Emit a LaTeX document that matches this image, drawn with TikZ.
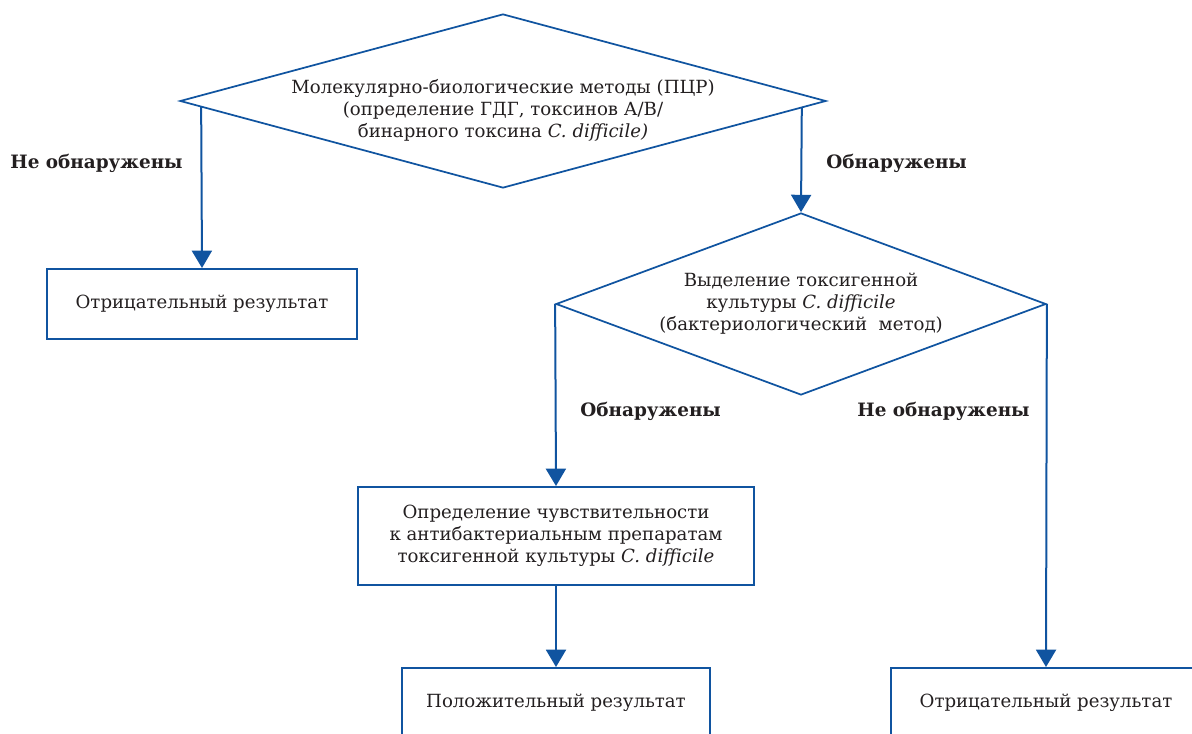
\documentclass[tikz,border=0pt]{standalone}
\usepackage{fontspec}
\setmainfont{DejaVu Serif}
\usepackage{xcolor}
\usetikzlibrary{shapes.geometric,arrows.meta,calc}
\definecolor{schemeblue}{RGB}{16,84,160}
\definecolor{textgray}{RGB}{35,31,32}
\begin{document}
\begin{tikzpicture}[x=0.75pt,y=-0.75pt,->,>={Triangle[width=15pt,length=13pt]},semithick]
		\tikzstyle{every node}=[text=textgray,font=\fontsize{13.6}{16.5}\selectfont]
		\tikzstyle{decision}=[diamond,draw=schemeblue,line width=1.3pt,inner xsep=-60pt,inner ysep=0pt,aspect=3,align=center]
		\tikzstyle{block}=[rectangle,draw=schemeblue,line width=1.5pt,inner sep=0pt,align=center]
		\tikzstyle{answer}=[anchor=west,inner sep=0pt,font=\fontsize{13.8}{16.5}\selectfont\bfseries]
		\useasboundingbox (0,0) rectangle (1192,734);
		\node[decision,minimum width=484.5pt,minimum height=130.5pt] (A) at (503,101)
			{\rule{0pt}{24pt}Молекулярно-биологические методы (ПЦР)\\(определение ГДГ, токсинов А/В/\\бинарного токсина \textit{C. difficile)}};
		\node[block,minimum width=232.5pt,minimum height=52.5pt]   (B) at (202,304) {Отрицательный результат};
		\node[decision,minimum width=367.5pt,minimum height=136.5pt] (C) at (801,304)
			{Выделение токсигенной\\культуры \textit{C. difficile}\\(бактериологический~ метод)};
		\node[block,minimum width=297pt,minimum height=73.5pt]     (D) at (556,536)
			{Определение чувствительности\\к антибактериальным препаратам\\токсигенной культуры \textit{C. difficile}};
		\node[block,minimum width=231pt,minimum height=52.5pt]     (E) at (556,703) {Положительный результат};
		\node[block,minimum width=232.5pt,minimum height=52.5pt]   (F) at (1046,703) {Отрицательный результат};
		\node[answer] (L1) at (10,163)  {Не обнаружены};
		\node[answer] (L2) at (826,163) {Обнаружены};
		\node[answer] (L3) at (580,411) {Обнаружены};
		\node[answer] (L4) at (857,411) {Не обнаружены};
		\begin{scope}[draw=schemeblue,line width=1.5pt]
		\draw ($(A.west)!0.068!(A.south)$) -- (B.north);
		\draw ($(A.east)!0.0774!(A.south)$) -- (C.north);
		\draw (C.west) -- (D.north);
		\draw (C.east) -- (F.north);
		\draw (D.south) -- (E.north);
		\end{scope}
	\end{tikzpicture}
\end{document}
